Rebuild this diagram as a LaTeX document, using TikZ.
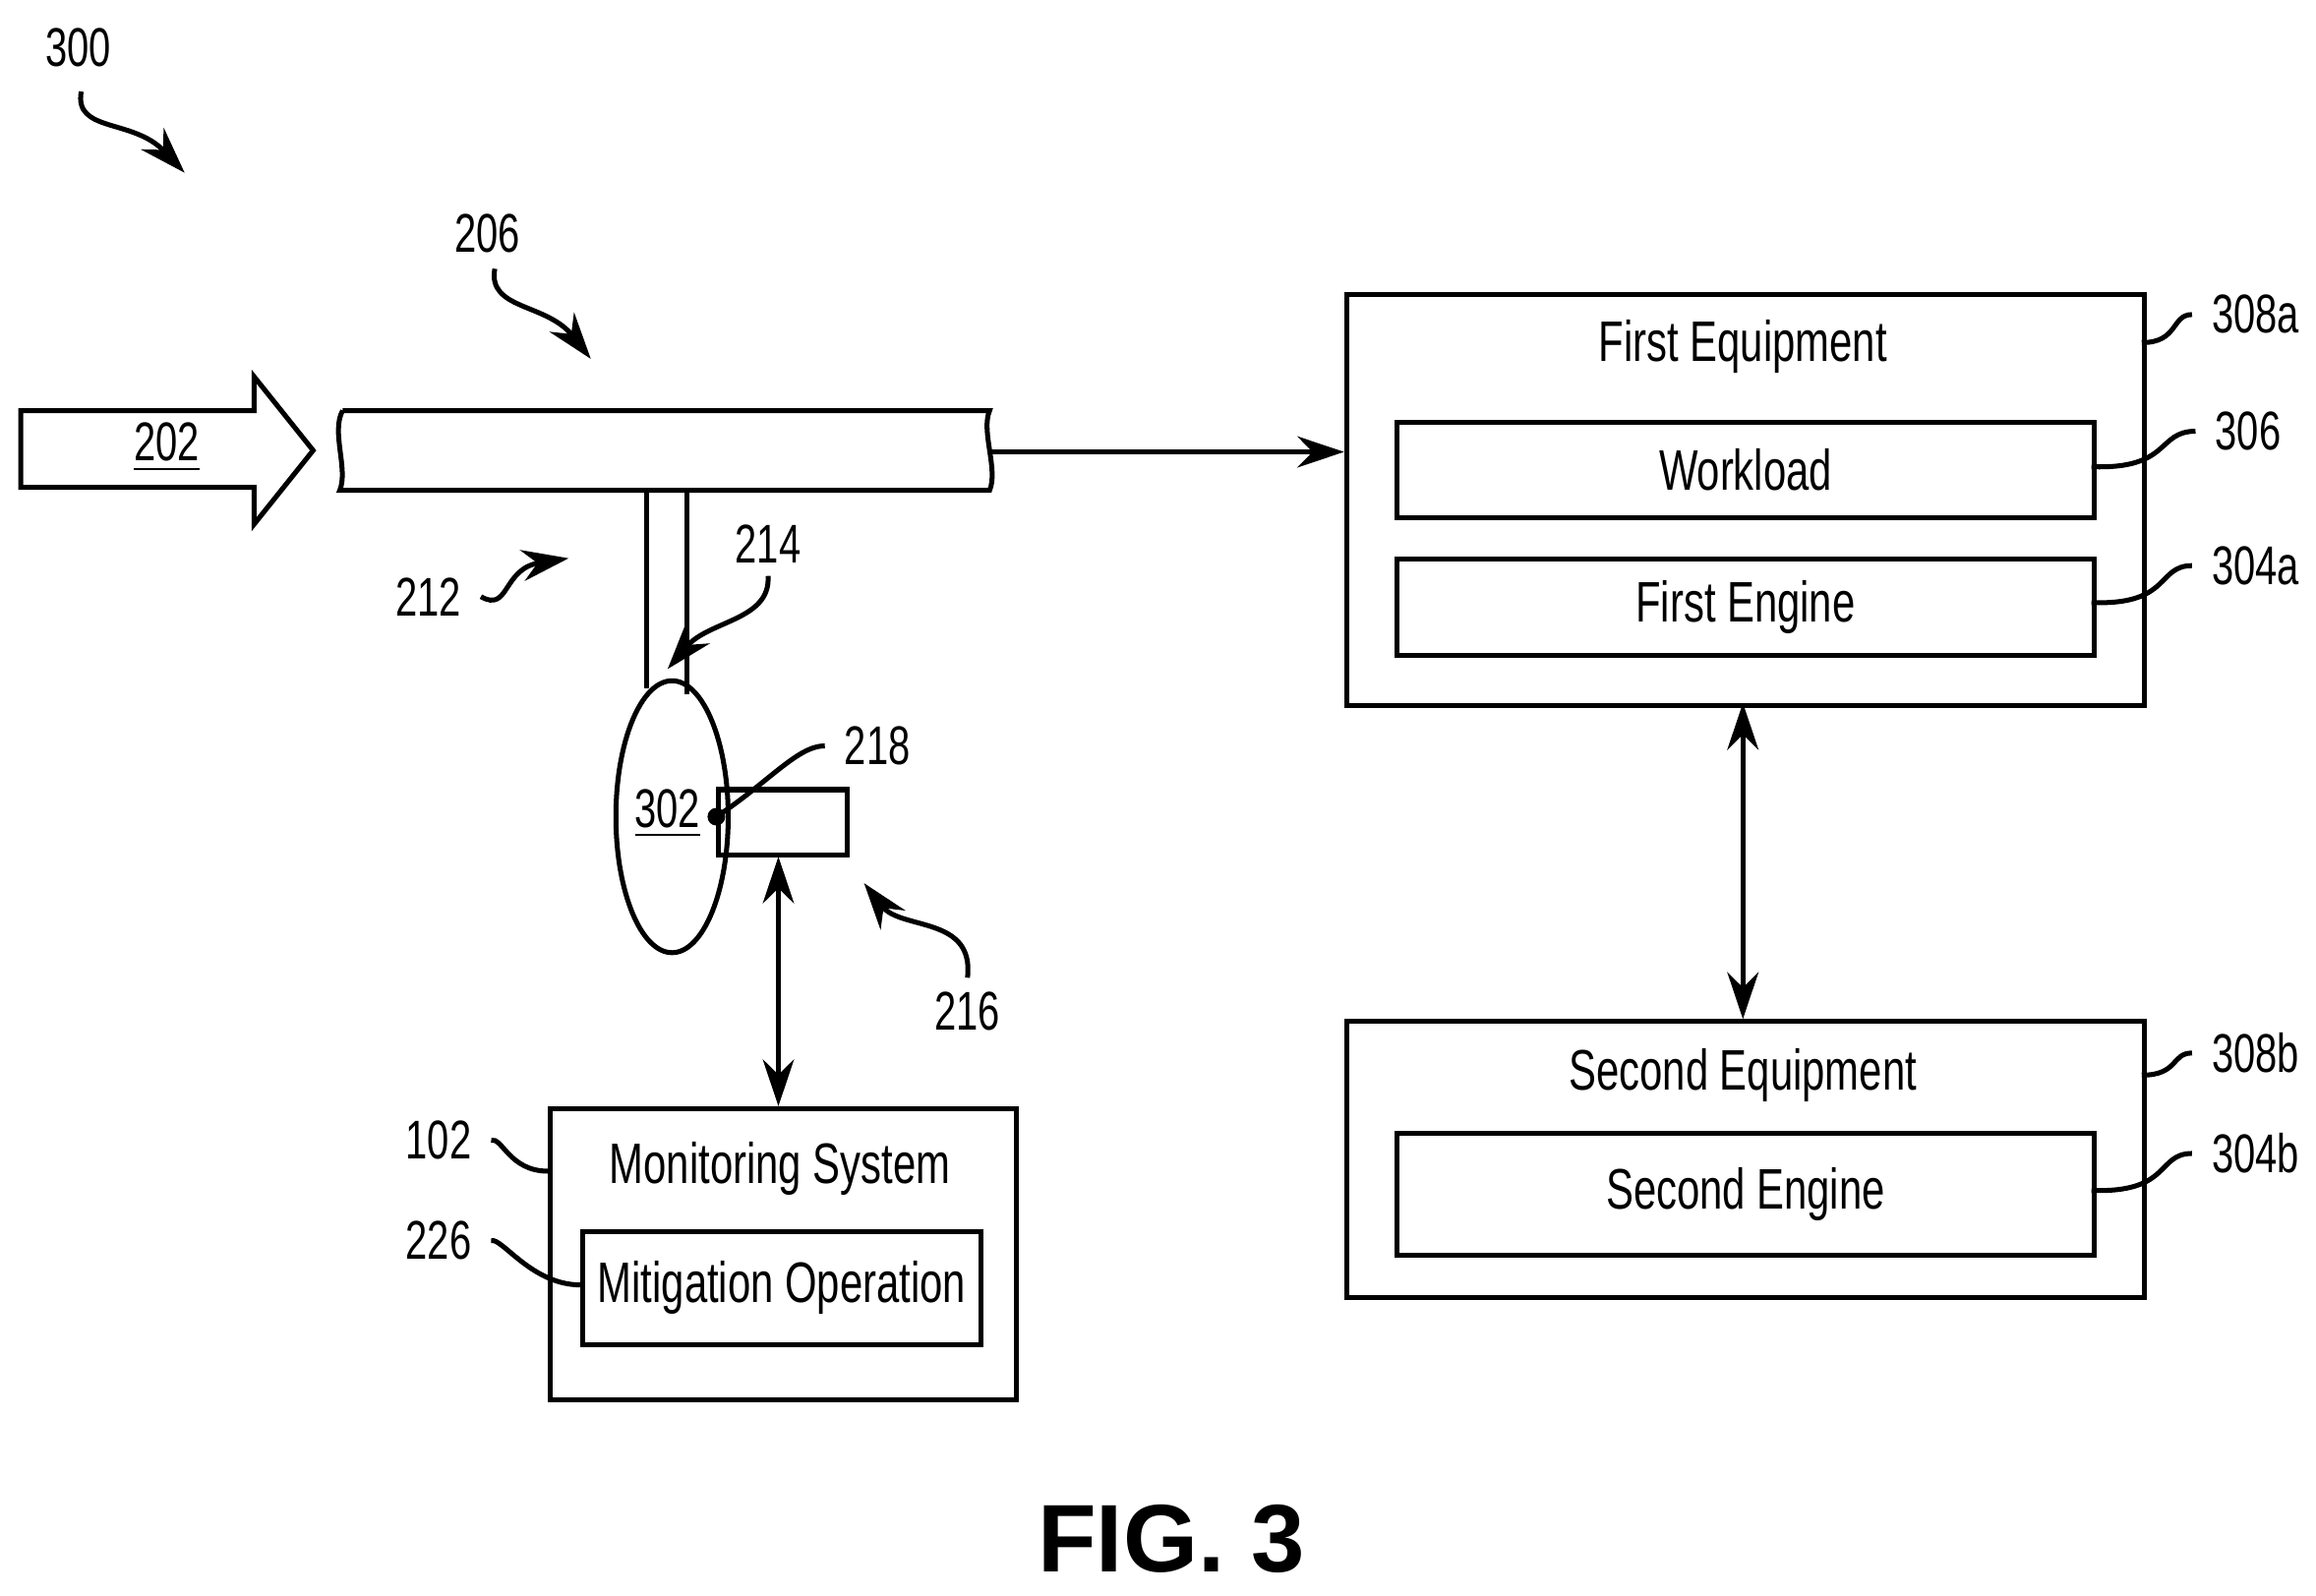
\documentclass[tikz,border=0pt]{standalone}
\usepackage{fontspec}
\setmainfont{Liberation Sans}[FakeStretch=0.72]
\newfontfamily\figfont{Liberation Sans}
\usetikzlibrary{arrows.meta,shapes.geometric}
\begin{document}
\begin{tikzpicture}[x=0.01cm,y=-0.01cm,line width=0.95pt,
  lbl/.style={font=\fontsize{10.5}{12}\selectfont},
  ttl/.style={font=\fontsize{11}{13}\selectfont},
  box/.style={draw,rectangle,inner sep=0pt},
  arr/.style={-{Stealth[length=9pt,width=6pt]}},
  darr/.style={{Stealth[length=9pt,width=6pt]}-{Stealth[length=9pt,width=6pt]}}]
\useasboundingbox (0,0) rectangle (1568,1080);
% big arrow 202
\draw (14,278) -- (172,278) -- (172,255) -- (212,305) -- (172,355) -- (172,330) -- (14,330) -- cycle;
\node[lbl] (n202) at (113,303) {\underline{202}};
% pipe
\draw (232,278) -- (670,278) .. controls (664,292) and (676,318) .. (670,332) -- (230,332) .. controls (236,318) and (224,292) .. (232,278);
\coordinate (pipeR) at (670,306);
% stub
\draw (438,332) -- (438,466) (465,332) -- (465,470);
\node[draw,ellipse,minimum width=0.76cm,minimum height=1.84cm,inner sep=0pt] (ell) at (455,553) {};
\node[lbl] (n302) at (452,551) {\underline{302}};
\node[box,minimum width=0.87cm,minimum height=0.44cm,anchor=north west] (sens) at (485,533) {};
\fill (485,553) circle (6);
\coordinate (dot) at (485,553);
\node[lbl] (n218) at (594,505) {218};
\draw (dot) .. controls (520,530) and (540,505) .. (n218.west);
% labels with arrows
\node[lbl] (n300) at (53,32) {300};
\coordinate (t300) at (125,117);
\draw[arr] (55,62) .. controls (50,90) and (90,80) .. (t300);
\node[lbl] (n206) at (330,158) {206};
\coordinate (t206) at (400,243);
\draw[arr] (335,182) .. controls (330,210) and (370,205) .. (t206);
\node[lbl] (n214) at (520,368) {214};
\coordinate (t214) at (452,453);
\draw[arr] (520,390) .. controls (522,420) and (480,420) .. (t214);
\node[lbl] (n212) at (290,404) {212};
\coordinate (t212) at (385,378);
\draw[arr] (n212.east) .. controls (345,415) and (340,385) .. (t212);
\node[lbl] (n216) at (655,685) {216};
\coordinate (t216) at (585,598);
\draw[arr] (655,662) .. controls (660,620) and (610,630) .. (t216);
% monitoring system
\node[box,minimum width=3.15cm,minimum height=1.97cm,anchor=north west] (mon) at (371,749) {};
\node[ttl] (monT) at (528,791) {Monitoring System};
\node[box,minimum width=2.69cm,minimum height=0.77cm,anchor=north west] (mit) at (393,832) {};
\node[ttl] at (mit.center) {Mitigation Operation};
\draw[darr] (527,580) -- (527,749);
\node[lbl] (n102) at (297,772) {102};
\draw (n102.east) .. controls (340,770) and (345,793) .. (371,793);
\node[lbl] (n226) at (297,840) {226};
\draw (n226.east) .. controls (340,838) and (360,870) .. (393,870);
% first equipment
\node[box,minimum width=5.4cm,minimum height=2.78cm,anchor=north west] (eq1) at (910,198) {};
\node[ttl] at (1180,235) {First Equipment};
\node[box,minimum width=4.72cm,minimum height=0.65cm,anchor=north west] (wl) at (944,284) {};
\node[ttl] at (wl.center) {Workload};
\node[box,minimum width=4.72cm,minimum height=0.65cm,anchor=north west] (fe) at (944,377) {};
\node[ttl] at (fe.center) {First Engine};
\draw[arr] (pipeR) -- (910,306);
% second equipment
\node[box,minimum width=5.4cm,minimum height=1.87cm,anchor=north west] (eq2) at (910,690) {};
\node[ttl] at (1180,728) {Second Equipment};
\node[box,minimum width=4.72cm,minimum height=0.82cm,anchor=north west] (se) at (944,766) {};
\node[ttl] at (se.center) {Second Engine};
\draw[darr] (1180,476) -- (1180,690);
% right labels
\node[lbl] (n308a) at (1527,213) {308a};
\draw (1450,232) .. controls (1475,232) and (1470,213) .. (n308a.west);
\node[lbl] (n306) at (1522,292) {306};
\draw (1416,316) .. controls (1470,318) and (1460,292) .. (n306.west);
\node[lbl] (n304a) at (1527,383) {304a};
\draw (1416,408) .. controls (1470,410) and (1460,383) .. (n304a.west);
\node[lbl] (n308b) at (1527,713) {308b};
\draw (1450,728) .. controls (1475,728) and (1470,713) .. (n308b.west);
\node[lbl] (n304b) at (1527,781) {304b};
\draw (1416,806) .. controls (1470,808) and (1460,781) .. (n304b.west);
\node[font=\figfont\bfseries\fontsize{18.5}{22}\selectfont] (fig) at (793,1042) {FIG. 3};
\end{tikzpicture}
\end{document}
